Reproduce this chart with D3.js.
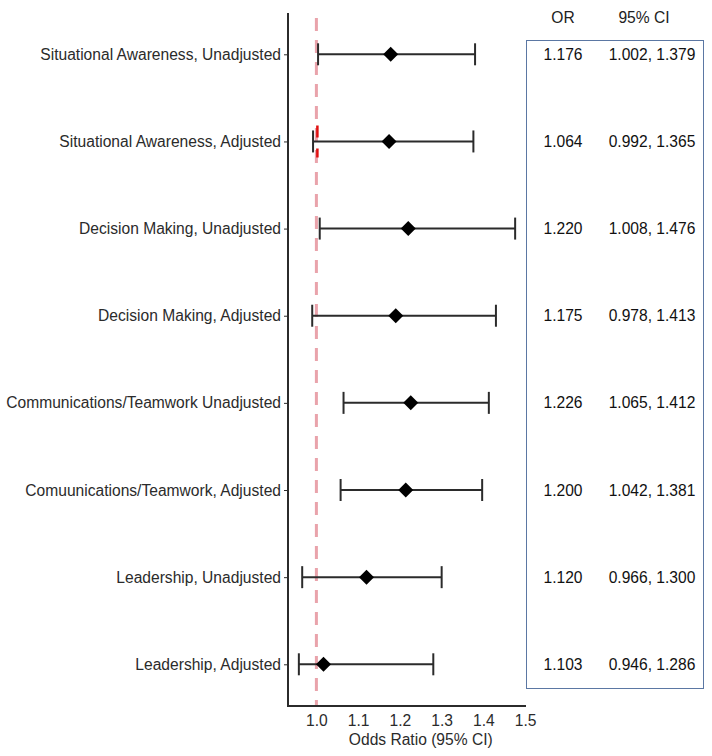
<!DOCTYPE html>
<html>
<head>
<meta charset="utf-8">
<script src="https://cdn.jsdelivr.net/npm/d3@7"></script>
<style>
  html, body { margin: 0; padding: 0; background: #fff; }
  text { font-family: Arial, "Liberation Sans", sans-serif; }
</style>
</head>
<body>
<svg id="chart" width="712" height="756"></svg>
<script>
const categories = [
  "Situational Awareness, Unadjusted",
  "Situational Awareness, Adjusted",
  "Decision Making, Unadjusted",
  "Decision Making, Adjusted",
  "Communications/Teamwork Unadjusted",
  "Comuunications/Teamwork, Adjusted",
  "Leadership, Unadjusted",
  "Leadership, Adjusted"
];
// values as plotted in the figure
const oddsRatio = [1.178, 1.174, 1.220, 1.190, 1.226, 1.214, 1.120, 1.017];
const ciLower   = [1.004, 0.992, 1.008, 0.990, 1.065, 1.058, 0.966, 0.958];
const ciUpper   = [1.380, 1.376, 1.476, 1.430, 1.413, 1.397, 1.300, 1.280];
// values printed in the table
const tableOR = ["1.176", "1.064", "1.220", "1.175", "1.226", "1.200", "1.120", "1.103"];
const tableCI = ["1.002, 1.379", "0.992, 1.365", "1.008, 1.476", "0.978, 1.413",
                 "1.065, 1.412", "1.042, 1.381", "0.966, 1.300", "0.946, 1.286"];
const xTicks = [1.0, 1.1, 1.2, 1.3, 1.4, 1.5];
const refValue = 1.0;

const svg = d3.select("#chart");
const ink = "#2b2b2b";
const fs = 15.6;
const ff = "Arial, 'Liberation Sans', sans-serif";

const x = d3.scaleLinear().domain([0.932, 1.502]).range([288, 526]);
const y = d3.scalePoint().domain(categories).range([54.3, 664.3]);
const axisTop = 13, axisBottom = 706;

// reference dashed line
svg.append("line")
  .attr("x1", x(refValue)).attr("x2", x(refValue))
  .attr("y1", axisTop + 5).attr("y2", axisBottom)
  .attr("stroke", "#e9a3ab").attr("stroke-width", 3)
  .attr("stroke-dasharray", "13,9");
// small bright red artefact near row 2
svg.append("line")
  .attr("x1", x(refValue) + 1).attr("x2", x(refValue) + 1)
  .attr("y1", y(categories[1]) - 16).attr("y2", y(categories[1]) + 16)
  .attr("stroke", "#e01010").attr("stroke-width", 2.5)
  .attr("stroke-dasharray", "12,11");

const rows = categories.map((c, i) => ({c, or: oddsRatio[i], lo: ciLower[i], hi: ciUpper[i], tor: tableOR[i], tci: tableCI[i]}));

const g = svg.append("g");
g.selectAll(".ci").data(rows).join("line")
  .attr("x1", d => x(d.lo)).attr("x2", d => x(d.hi))
  .attr("y1", d => y(d.c)).attr("y2", d => y(d.c))
  .attr("stroke", ink).attr("stroke-width", 2);
g.selectAll(".capL").data(rows).join("line")
  .attr("x1", d => x(d.lo)).attr("x2", d => x(d.lo))
  .attr("y1", d => y(d.c) - 11).attr("y2", d => y(d.c) + 11)
  .attr("stroke", ink).attr("stroke-width", 2);
g.selectAll(".capR").data(rows).join("line")
  .attr("x1", d => x(d.hi)).attr("x2", d => x(d.hi))
  .attr("y1", d => y(d.c) - 11).attr("y2", d => y(d.c) + 11)
  .attr("stroke", ink).attr("stroke-width", 2);
g.selectAll(".pt").data(rows).join("path")
  .attr("d", d => { const cx = x(d.or), cy = y(d.c), r = 7.5;
    return `M${cx},${cy - r}L${cx + r},${cy}L${cx},${cy + r}L${cx - r},${cy}Z`; })
  .attr("fill", "#000");

// axes
const yAxis = svg.append("g").attr("transform", "translate(288,0)")
  .call(d3.axisLeft(y).tickSize(4).tickPadding(3));
yAxis.select(".domain").remove();
yAxis.selectAll(".tick line").attr("stroke", ink).attr("stroke-width", 1);
yAxis.selectAll(".tick text").attr("fill", ink).attr("font-size", fs).attr("font-family", ff);

const xAxis = svg.append("g").attr("transform", `translate(0,${axisBottom})`)
  .call(d3.axisBottom(x).tickValues(xTicks).tickFormat(d3.format(".1f")).tickSize(0).tickPadding(9));
xAxis.select(".domain").remove();
xAxis.selectAll(".tick text").attr("fill", ink).attr("font-size", fs).attr("font-family", ff);

svg.append("line").attr("x1", 288).attr("x2", 288).attr("y1", axisTop).attr("y2", axisBottom + 1)
  .attr("stroke", ink).attr("stroke-width", 2);
svg.append("line").attr("x1", 287).attr("x2", 526).attr("y1", axisBottom).attr("y2", axisBottom)
  .attr("stroke", ink).attr("stroke-width", 2);

svg.append("text").attr("x", x(1.25)).attr("y", 745)
  .attr("text-anchor", "middle").attr("font-size", fs).attr("fill", ink)
  .text("Odds Ratio (95% CI)");

// table
const colOR = 563, colCI = 652;
svg.append("rect").attr("x", 526.5).attr("y", 40.5).attr("width", 177).attr("height", 648)
  .attr("fill", "none").attr("stroke", "#5b77a3").attr("stroke-width", 1);
svg.append("text").attr("x", colOR).attr("y", 23).attr("text-anchor", "middle")
  .attr("font-size", fs).attr("fill", "#222").text("OR");
svg.append("text").attr("x", 644).attr("y", 23).attr("text-anchor", "middle")
  .attr("font-size", fs).attr("fill", "#222").text("95% CI");
svg.selectAll(".tor").data(rows).join("text")
  .attr("x", colOR).attr("y", d => y(d.c) + 5.5).attr("text-anchor", "middle")
  .attr("font-size", fs).attr("fill", "#111").text(d => d.tor);
svg.selectAll(".tci").data(rows).join("text")
  .attr("x", colCI).attr("y", d => y(d.c) + 5.5).attr("text-anchor", "middle")
  .attr("font-size", fs).attr("fill", "#111").text(d => d.tci);
</script>
</body>
</html>
